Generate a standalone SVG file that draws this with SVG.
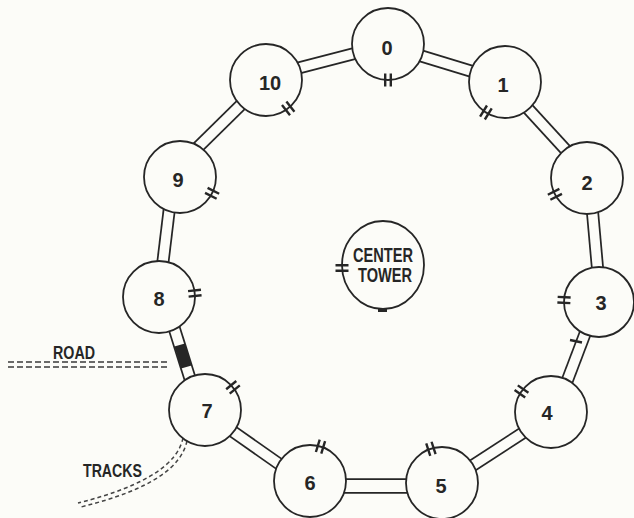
<svg xmlns="http://www.w3.org/2000/svg" xmlns:xlink="http://www.w3.org/1999/xlink" width="634" height="518" viewBox="0 0 634 518">
<defs>
<style>
.bg{fill:#fcfcf8}
.po{stroke:#262626;stroke-width:13;fill:none}
.pi{stroke:#fcfcf8;stroke-width:9.5;fill:none}
.wide .po{stroke-width:15.5}
.wide .pi{stroke-width:12}
.node circle,.node ellipse{fill:#fcfcf8;stroke:#262626;stroke-width:1.8}
.lbl{font-family:"Liberation Sans",Arial,sans-serif;font-weight:bold;font-size:20px;text-anchor:middle;fill:#262626}
.cond{font-family:"Liberation Sans",Arial,sans-serif;font-weight:bold;fill:#262626}
.tick{stroke:#262626;stroke-width:2.4;fill:none}
.dash{stroke:#3a3a3a;stroke-width:1.4;fill:none;stroke-dasharray:6 3}
.trk{stroke:#444;stroke-width:1.5;fill:none;stroke-dasharray:4 3}
</style>
<path id="tk" d="M-6.5,-2.8H6.5M-6.5,2.8H6.5"/>
</defs>
<rect class="bg" x="0" y="0" width="634" height="518"/>

<g id="road">
<line class="dash" x1="8" y1="362" x2="168" y2="362"/>
<line class="dash" x1="8" y1="367" x2="168" y2="367"/>
<text class="cond" x="53" y="359" font-size="18" textLength="42" lengthAdjust="spacingAndGlyphs">ROAD</text>
</g>
<g id="tracks">
<path class="trk" d="M183,438 C178,462 150,485 78,503"/>
<path class="trk" d="M187,441 C181,467 153,489 81,507"/>
<text class="cond" x="83" y="477" font-size="19" textLength="59" lengthAdjust="spacingAndGlyphs">TRACKS</text>
</g>

<g id="connectors">
<g id="c10-0"><line class="po" x1="283" y1="72" x2="368" y2="50"/><line class="pi" x1="283" y1="72" x2="368" y2="50"/></g>
<g id="c0-1"><line class="po" x1="405" y1="51" x2="487" y2="76"/><line class="pi" x1="405" y1="51" x2="487" y2="76"/></g>
<g id="c1-2"><line class="po" x1="520" y1="100" x2="575" y2="160"/><line class="pi" x1="520" y1="100" x2="575" y2="160"/></g>
<g id="c2-3"><line class="po" x1="591" y1="195" x2="599" y2="285"/><line class="pi" x1="591" y1="195" x2="599" y2="285"/></g>
<g id="c3-4"><line class="po" x1="591" y1="318" x2="561" y2="397"/><line class="pi" x1="591" y1="318" x2="561" y2="397"/><line class="tick" x1="570" y1="340" x2="582" y2="342.5"/></g>
<g id="c4-5"><line class="po" x1="535" y1="425" x2="458" y2="475"/><line class="pi" x1="535" y1="425" x2="458" y2="475"/></g>
<g id="c5-6" class="wide"><line class="po" x1="325" y1="486" x2="425" y2="486"/><line class="pi" x1="325" y1="486" x2="425" y2="486"/></g>
<g id="c6-7"><line class="po" x1="225" y1="426" x2="292" y2="473"/><line class="pi" x1="225" y1="426" x2="292" y2="473"/></g>
<g id="c7-8"><line class="po" x1="171" y1="318" x2="192" y2="385"/><line class="pi" x1="171" y1="318" x2="192" y2="385"/><line x1="179.6" y1="345" x2="186.4" y2="367" stroke="#262626" stroke-width="11"/></g>
<g id="c8-9"><line class="po" x1="171" y1="195" x2="161" y2="278"/><line class="pi" x1="171" y1="195" x2="161" y2="278"/></g>
<g id="c9-10"><line class="po" x1="190" y1="155" x2="252" y2="94"/><line class="pi" x1="190" y1="155" x2="252" y2="94"/></g>
</g>

<g id="node-0" class="node"><circle cx="388" cy="44" r="36"/><text class="lbl" x="387" y="55">0</text><use class="tick" xlink:href="#tk" transform="translate(388,80) rotate(90)"/></g>
<g id="node-1" class="node"><circle cx="505" cy="82" r="36"/><text class="lbl" x="503" y="92">1</text><use class="tick" xlink:href="#tk" transform="translate(485.9,112.5) rotate(122)"/></g>
<g id="node-2" class="node"><circle cx="587" cy="178" r="36"/><text class="lbl" x="587" y="190">2</text><use class="tick" xlink:href="#tk" transform="translate(554.9,194.3) rotate(153)"/></g>
<g id="node-3" class="node"><circle cx="599" cy="302" r="35"/><text class="lbl" x="601" y="310">3</text><use class="tick" xlink:href="#tk" transform="translate(564,300) rotate(183)"/></g>
<g id="node-4" class="node"><circle cx="551" cy="412" r="36"/><text class="lbl" x="547" y="420">4</text><use class="tick" xlink:href="#tk" transform="translate(521.5,391.4) rotate(215)"/></g>
<g id="node-5" class="node"><circle cx="442" cy="483" r="36"/><text class="lbl" x="441" y="493">5</text><use class="tick" xlink:href="#tk" transform="translate(430.9,448.8) rotate(252)"/></g>
<g id="node-6" class="node"><circle cx="310" cy="481" r="36"/><text class="lbl" x="310" y="490">6</text><use class="tick" xlink:href="#tk" transform="translate(320.5,446.6) rotate(287)"/></g>
<g id="node-7" class="node"><circle cx="205" cy="410" r="36"/><text class="lbl" x="207" y="418">7</text><use class="tick" xlink:href="#tk" transform="translate(233,387.3) rotate(321)"/></g>
<g id="node-8" class="node"><circle cx="159" cy="297" r="36"/><text class="lbl" x="159" y="306">8</text><use class="tick" xlink:href="#tk" transform="translate(194.8,293.2) rotate(354)"/></g>
<g id="node-9" class="node"><circle cx="180" cy="177" r="36"/><text class="lbl" x="178" y="187">9</text><use class="tick" xlink:href="#tk" transform="translate(212.1,193.3) rotate(27)"/></g>
<g id="node-10" class="node"><circle cx="266" cy="80" r="36"/><text class="lbl" x="270" y="90">10</text><use class="tick" xlink:href="#tk" transform="translate(288.2,108.4) rotate(52)"/></g>

<g id="center-tower" class="node">
<ellipse cx="383" cy="265" rx="41" ry="44"/>
<text class="cond" x="383" y="262" font-size="20" text-anchor="middle" textLength="60" lengthAdjust="spacingAndGlyphs">CENTER</text>
<text class="cond" x="385" y="282" font-size="20" text-anchor="middle" textLength="54" lengthAdjust="spacingAndGlyphs">TOWER</text>
<use class="tick" xlink:href="#tk" transform="translate(342,268) rotate(180)"/>
<rect x="378" y="308" width="9" height="4" fill="#262626"/>
</g>
</svg>
